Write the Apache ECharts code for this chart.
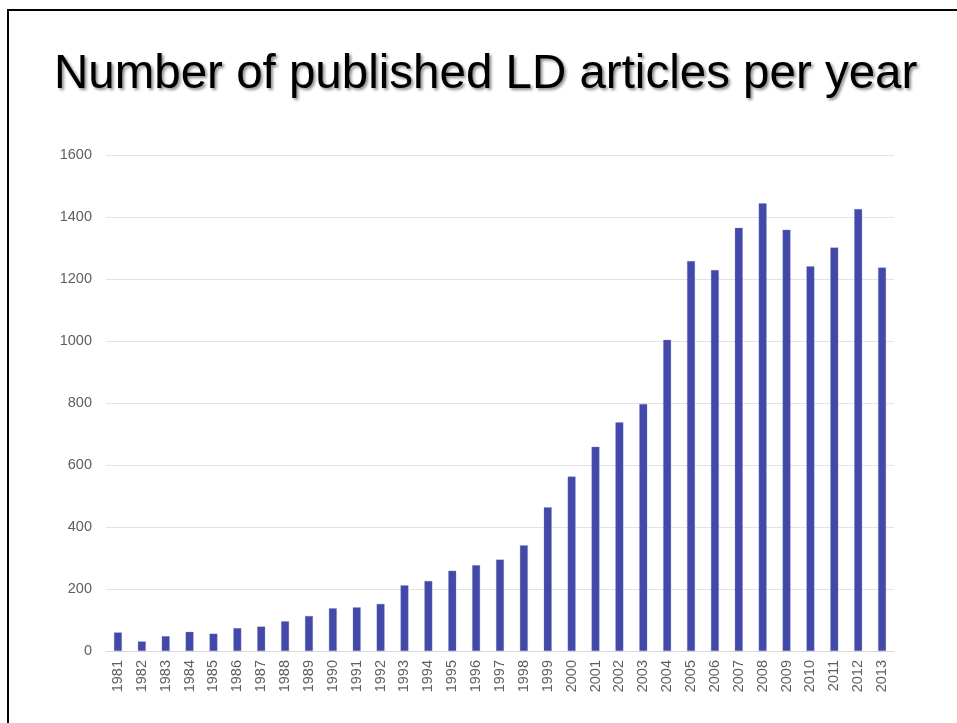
<!DOCTYPE html>
<html>
<head>
<meta charset="utf-8">
<style>
  html, body { margin: 0; padding: 0; background: #fff; }
  #chart { width: 957px; height: 723px; }
</style>
<script src="https://cdn.jsdelivr.net/npm/echarts@6/dist/echarts.min.js"></script>
</head>
<body>
<div id="chart"></div>
<script>
// Publication years on the category axis
const years = [
  '1981','1982','1983','1984','1985','1986','1987','1988','1989','1990','1991',
  '1992','1993','1994','1995','1996','1997','1998','1999','2000','2001','2002',
  '2003','2004','2005','2006','2007','2008','2009','2010','2011','2012','2013'
];

// Number of LD articles published each year
const articles = [
  60, 31, 48, 62, 56, 74, 79, 96, 113, 138, 141,
  152, 212, 226, 259, 277, 295, 341, 464, 563, 659, 738,
  797, 1004, 1258, 1229, 1365, 1444, 1359, 1241, 1302, 1426, 1237
];

// Value-axis ticks
const yTicks = [0, 200, 400, 600, 800, 1000, 1200, 1400, 1600];

const chart = echarts.init(document.getElementById('chart'), null, { renderer: 'canvas' });

chart.setOption({
  backgroundColor: '#ffffff',
  animation: false,
  title: {
    text: 'Number of published LD articles per year',
    left: 49,
    top: 46,
    textStyle: {
      fontFamily: 'Liberation Sans, Arial, sans-serif',
      fontSize: 47.5,
      fontWeight: 'normal',
      color: '#000000',
      textShadowColor: 'rgba(0,0,0,0.45)',
      textShadowBlur: 3,
      textShadowOffsetX: 2,
      textShadowOffsetY: 2
    }
  },
  graphic: [{
    type: 'rect',
    shape: { x: 8, y: 10, width: 1000, height: 800 },
    style: { fill: 'none', stroke: '#000000', lineWidth: 2 },
    silent: true,
    z: 10
  }],
  grid: {
    left: 106,
    right: 63,
    top: 155,
    bottom: 72,
    containLabel: false
  },
  xAxis: {
    type: 'category',
    data: years,
    axisTick: { show: false },
    axisLine: { show: true, lineStyle: { color: '#d9d9d9', width: 1 } },
    axisLabel: {
      rotate: 90,
      interval: 0,
      margin: 9,
      fontFamily: 'Liberation Sans, Arial, sans-serif',
      fontSize: 14.5,
      color: '#5f5f5f'
    }
  },
  yAxis: {
    type: 'value',
    min: yTicks[0],
    max: yTicks[yTicks.length - 1],
    interval: yTicks[1] - yTicks[0],
    axisLine: { show: false },
    axisTick: { show: false },
    splitLine: { lineStyle: { color: '#e3e3e3', width: 1 } },
    axisLabel: {
      margin: 14,
      formatter: (v) => String(v),
      fontFamily: 'Liberation Sans, Arial, sans-serif',
      fontSize: 14.5,
      color: '#5f5f5f'
    }
  },
  series: [{
    type: 'bar',
    data: articles,
    barWidth: 8,
    itemStyle: {
      color: '#4249a9',
      borderColor: 'rgba(120,126,200,0.6)',
      borderWidth: 0.5
    }
  }]
});
</script>
</body>
</html>
